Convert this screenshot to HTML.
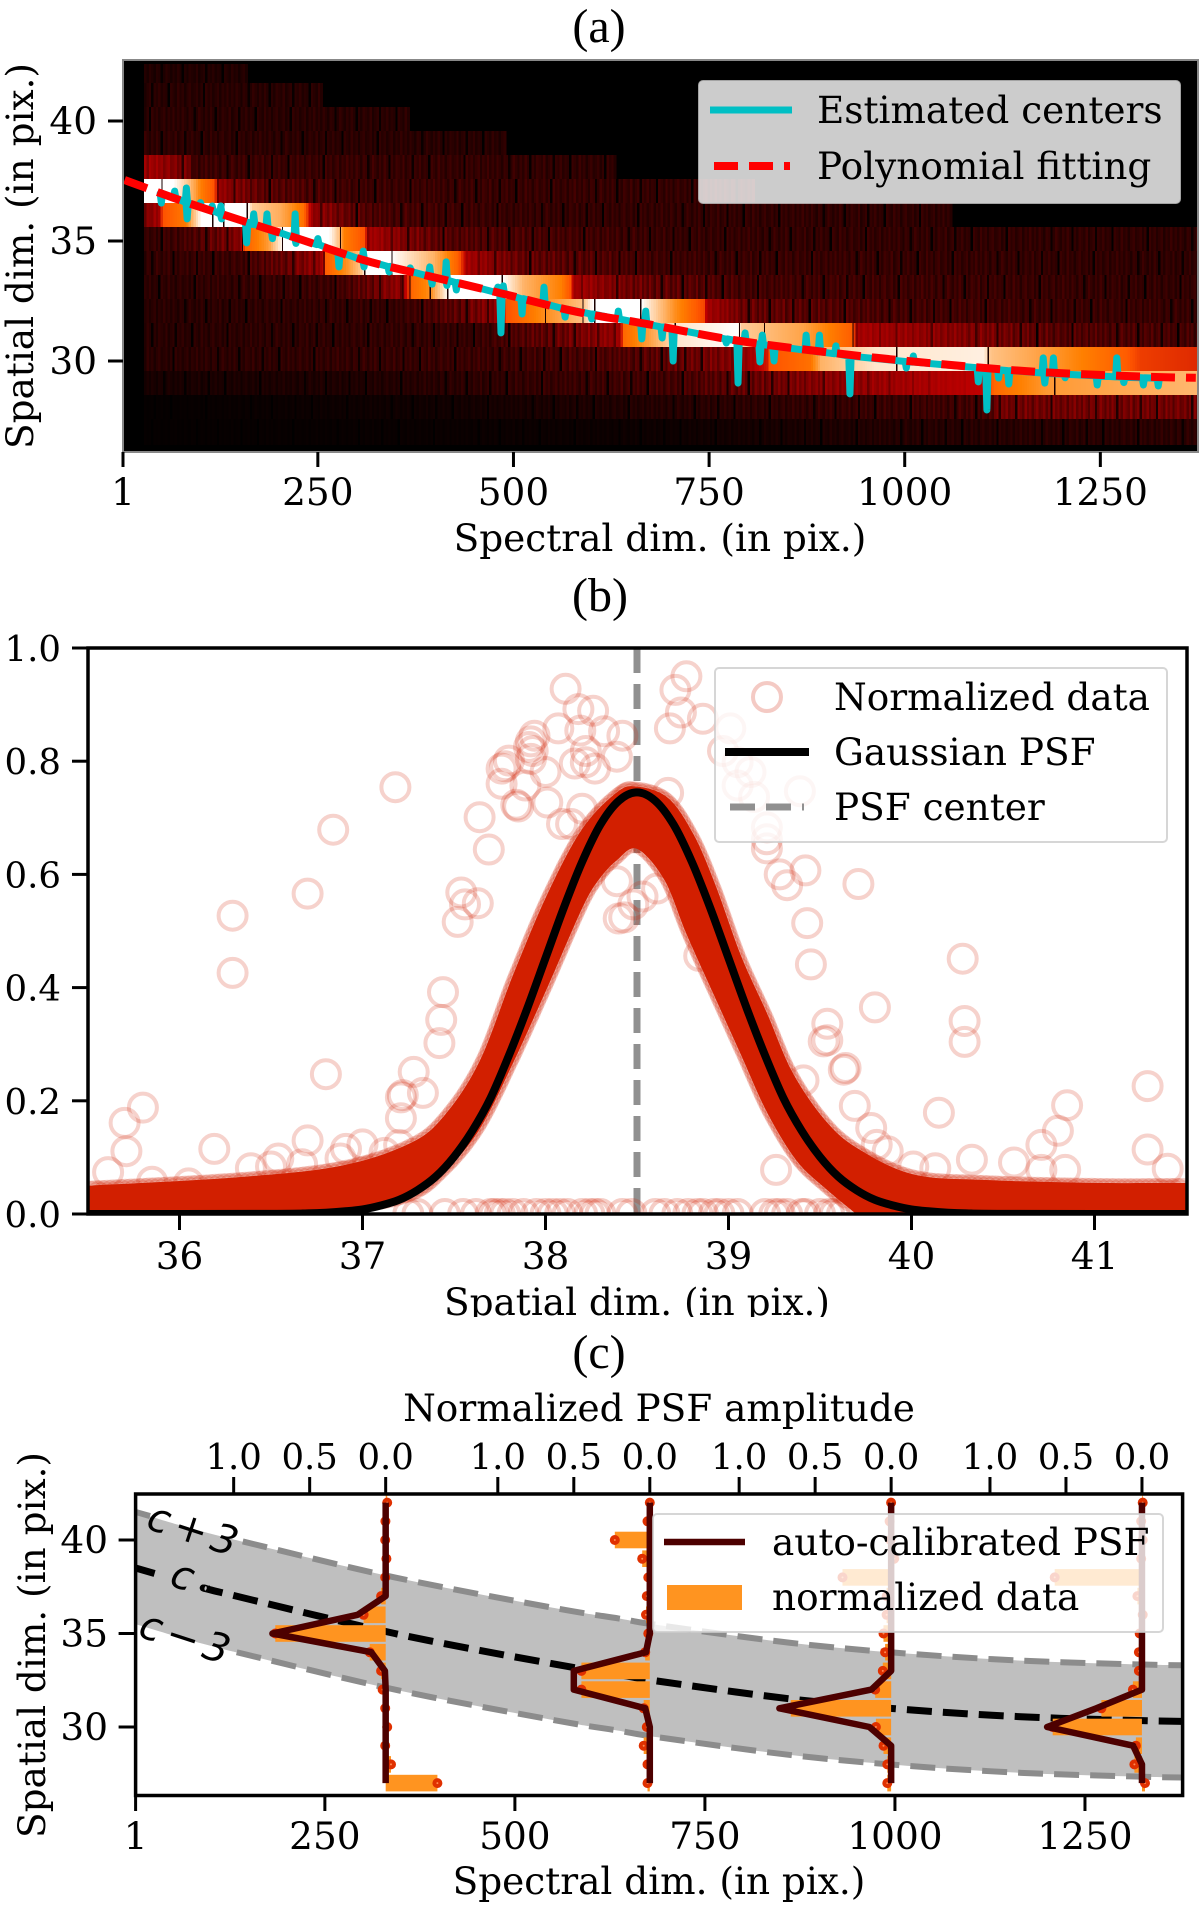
<!DOCTYPE html>
<html>
<head>
<meta charset="utf-8">
<title>PSF calibration figure</title>
<style>
html,body{margin:0;padding:0;background:#fff;}
svg{display:block;}
text{font-family:"DejaVu Serif","Liberation Serif",serif;font-size:37.4px;fill:#000;}
text.ptitle{font-family:"Liberation Serif","DejaVu Serif",serif;font-size:48px;}
text.ann{font-family:"DejaVu Sans","Liberation Sans",sans-serif;font-style:italic;font-size:40px;word-spacing:-7px;}
</style>
</head>
<body>
<svg id="fig" xmlns="http://www.w3.org/2000/svg" width="1200" height="1908" viewBox="0 0 1200 1908">
<defs>
<clipPath id="clipA"><rect x="123" y="60" width="1075" height="392"/></clipPath>
<clipPath id="clipHeat"><rect x="123" y="64" width="1075" height="381"/></clipPath>
<clipPath id="clipB"><rect x="88" y="648" width="1099" height="566"/></clipPath>
<clipPath id="clipC"><rect x="135.6" y="1494" width="1047" height="301.5"/></clipPath>
</defs>
<rect x="0" y="0" width="1200" height="1908" fill="#fff"/>

<!-- PANEL A -->
<text class="ptitle" x="599" y="42" text-anchor="middle">(a)</text>
<rect x="123" y="60" width="1075" height="392" fill="#000"/>
<g id="heat" clip-path="url(#clipHeat)" shape-rendering="crispEdges"></g>
<g id="aMarks" clip-path="url(#clipA)"></g>
<rect x="123" y="60" width="1075" height="392" fill="none" stroke="#888" stroke-width="2"/>
<g id="aAxes"></g>
<text x="660" y="551" text-anchor="middle">Spectral dim. (in pix.)</text>
<text transform="translate(33,256) rotate(-90)" text-anchor="middle">Spatial dim. (in pix.)</text>
<g>
<rect x="699" y="81" width="481" height="122" rx="4" fill="#fff" fill-opacity="0.8" stroke="#ccc" stroke-opacity="0.8" stroke-width="2"/>
<line x1="710" y1="110" x2="792" y2="110" stroke="#00bfc4" stroke-width="7"/>
<line x1="714" y1="166" x2="790" y2="166" stroke="#f00" stroke-width="8" stroke-dasharray="24 11"/>
<text x="817" y="123">Estimated centers</text>
<text x="817" y="179">Polynomial fitting</text>
</g>

<!-- PANEL B -->
<text class="ptitle" x="600" y="611" text-anchor="middle">(b)</text>
<g id="bMarks" clip-path="url(#clipB)"></g>
<g>
<rect x="715" y="668" width="452" height="174" rx="4" fill="#fff" fill-opacity="0.8" stroke="#ccc" stroke-opacity="0.8" stroke-width="2"/>
<circle cx="767" cy="697" r="14" fill="none" stroke="#d21f00" stroke-opacity="0.2" stroke-width="4"/>
<line x1="725" y1="752" x2="809" y2="752" stroke="#000" stroke-width="8"/>
<line x1="730" y1="807" x2="804" y2="807" stroke="#909090" stroke-width="7" stroke-dasharray="25 11"/>
<text x="834" y="710">Normalized data</text>
<text x="834" y="765">Gaussian PSF</text>
<text x="834" y="820">PSF center</text>
</g>
<rect x="88" y="648" width="1099" height="566" fill="none" stroke="#000" stroke-width="3.5"/>
<g id="bAxes"></g>
<text x="637" y="1315" text-anchor="middle">Spatial dim. (in pix.)</text>
<rect x="0" y="1317" width="1200" height="8" fill="#fff"/>

<!-- PANEL C -->
<text class="ptitle" x="599" y="1368" text-anchor="middle">(c)</text>
<text x="659" y="1421" text-anchor="middle">Normalized PSF amplitude</text>
<g id="cMarks" clip-path="url(#clipC)"></g>
<text class="ann" transform="translate(193,1529) rotate(18)" y="14" text-anchor="middle">c + 3</text>
<text class="ann" transform="translate(182,1578) rotate(18)" y="11" text-anchor="middle">c</text>
<text class="ann" transform="translate(185,1637) rotate(18)" y="14" text-anchor="middle">c − 3</text>
<g>
<rect x="653" y="1514" width="510" height="118" rx="4" fill="#fff" fill-opacity="0.8" stroke="#ccc" stroke-opacity="0.8" stroke-width="2"/>
<line x1="664" y1="1542" x2="745" y2="1542" stroke="#4d0000" stroke-width="6.5"/>
<rect x="667" y="1585" width="75" height="25" fill="#ff9420"/>
<text x="772" y="1555">auto-calibrated PSF</text>
<text x="772" y="1610">normalized data</text>
</g>
<rect x="135.6" y="1494" width="1047" height="301.5" fill="none" stroke="#000" stroke-width="3.5"/>
<g id="cAxes"></g>
<text x="659" y="1894" text-anchor="middle">Spectral dim. (in pix.)</text>
<text transform="translate(45,1645) rotate(-90)" text-anchor="middle">Spatial dim. (in pix.)</text>
</svg>

<script>
/* ---------- PANEL A DATA ---------- */
const aXTicks = [1, 250, 500, 750, 1000, 1250];
const aYTicks = [30, 35, 40];
const heatRows = [42, 41, 40, 39, 38, 37, 36, 35, 34, 33, 32, 31, 30, 29, 28, 27];
const heatProfiles = [
  [[28,.1],[157,.1]],
  [[28,.12],[255,.12]],
  [[28,.13],[365,.12]],
  [[28,.14],[489,.12]],
  [[28,.45],[45,.42],[84,.33],[90,.18],[400,.16],[628,.14]],
  [[28,1],[64,1],[84,.88],[100,.74],[117,.66],[120,.42],[180,.27],[300,.18],[805,.15]],
  [[28,.35],[47,.45],[50,.66],[80,.74],[88,.85],[100,1],[159,1],[165,.9],[200,.84],[230,.72],[236,.6],[240,.42],[320,.22],[500,.16],[1058,.14]],
  [[28,.15],[79,.2],[150,.38],[155,.68],[185,.8],[204,1],[263,1],[278,.85],[281,.75],[308,.66],[312,.45],[419,.25],[700,.16],[1375,.14]],
  [[28,.15],[150,.18],[182,.25],[255,.42],[258,.68],[285,.78],[305,.9],[309,1],[343,1],[397,.85],[429,.68],[439,.45],[508,.3],[700,.18],[1375,.14]],
  [[28,.13],[270,.18],[358,.42],[368,.7],[393,.78],[415,1],[485,1],[512,.85],[559,.75],[572,.66],[575,.45],[650,.32],[800,.2],[1375,.15]],
  [[28,.12],[350,.16],[429,.28],[486,.42],[489,.66],[540,.78],[588,.88],[600,1],[662,1],[705,.78],[742,.64],[746,.45],[800,.3],[1000,.2],[1375,.16]],
  [[28,.12],[450,.16],[549,.3],[635,.42],[639,.7],[674,.82],[708,.95],[786,1],[790,.9],[869,.82],[933,.68],[936,.45],[1110,.35],[1200,.25],[1375,.2]],
  [[28,.12],[500,.18],[662,.25],[789,.38],[823,.55],[825,.66],[878,.72],[892,.85],[961,.95],[1099,.97],[1109,.88],[1168,.82],[1282,.68],[1300,.62],[1375,.58]],
  [[28,.07],[300,.09],[500,.15],[700,.2],[892,.38],[1099,.5],[1112,.7],[1181,.8],[1375,.86]],
  [[28,.015],[400,.05],[800,.13],[1109,.2],[1112,.33],[1375,.33]],
  [[28,.015],[700,.04],[1000,.11],[1375,.13]]
];
const columnGain = [.9,.35,1.1,.6,.15,1,.8,.1,.5,1.2,.7,.25,.95,.4,1.15,.6,.05,.85,.3,1.05,.75,.45,1.2,.2,.65,1,.1,.9,.55,1.1,.35,.8,.6,.02,1.05,.7,.3,1.2,.5,.9,.15,.75,1.1,.4,.6,1,.25,.85,.05,1.15,.55,.95,.3,.7,1.05,.2,.9,.5,1.2,.4];
const darkLineRows = [37,36,36,36,35,35,35,34,34,34,33,33,33,33,33,32,32,32,32,31,31,31,31,30,30,29];
const darkLineCols = [50,115,129,159,153,204,278,257,309,344,358,367,393,415,485,540,588,603,662,706,788,820,933,989,1106,1191];
const fitCols = [3,79,150,222,308,375,483,581,671,781,910,1030,1168,1305,1372];
const fitVals = [37.54,36.64,35.88,35.13,34.21,33.67,32.83,32.05,31.54,30.875,30.33,29.92,29.55,29.35,29.30];
const spikeCols = [50,67,82,83,100,115,126,127,159,168,185,192,221,222,250,277,308,309,341,368,393,396,414,415,427,480,484,487,511,539,566,600,634,664,669,690,704,772,787,796,815,818,833,874,891,912,930,1002,1011,1094,1105,1120,1133,1177,1179,1190,1205,1246,1271,1280,1305,1324];
const spikeTips = [36.58,37.08,37.21,35.92,36.6,36.46,36.46,35.92,34.92,36.13,36.13,35.1,36.13,34.9,35.1,33.92,34.58,33.92,33.71,33.88,33.92,33.2,34.13,33.15,32.96,33.08,31.17,33.13,31.96,33.08,31.83,31.75,32.08,30.92,32.08,30.96,30,30.75,29.08,31.17,29.96,31.08,30,31.08,31.08,30.63,28.63,29.71,30.21,29.13,27.96,29.29,29.04,30.13,29.08,30.13,29.3,29,30.13,29.1,29,28.96];
const spikeBases = [36.98,36.8,36.61,36.6,36.42,36.26,36.13,36.12,35.78,35.69,35.51,35.44,35.14,35.13,34.85,34.54,34.21,34.2,33.94,33.73,33.53,33.5,33.37,33.36,33.27,32.85,32.82,32.8,32.6,32.38,32.17,31.96,31.75,31.57,31.54,31.42,31.33,30.92,30.84,30.79,30.7,30.68,30.62,30.45,30.38,30.3,30.2,29.98,29.95,29.72,29.7,29.63,29.6,29.5,29.5,29.47,29.45,29.38,29.34,29.32,29.3,29.28];

/* ---------- PANEL B DATA ---------- */
const bXTicks = [36, 37, 38, 39, 40, 41];
const bYTicks = [0, 0.2, 0.4, 0.6, 0.8, 1.0];
const outlierX = [38.11,38.18,38.26,38.07,38.19,38.32,38.42,37.94,37.92,37.91,37.93,37.92,37.80,37.78,37.76,38.0,38.22,38.22,38.16,38.27,38.39,37.89,37.76,37.85,37.84,38.01,37.64,37.69,37.18,36.84,36.70,36.29,36.29,37.54,37.56,37.63,37.52,37.44,37.43,37.42,36.80,37.28,37.33,37.21,37.22,37.21,35.80,35.70,35.71,36.19,36.70,36.91,37.0,36.88,37.12,37.20,36.54,36.39,36.67,36.50,35.61,35.85,36.05,38.14,38.09,38.2,38.39,38.40,38.48,
38.77,38.71,38.74,38.68,38.86,39.01,39.21,38.97,39.05,39.12,39.39,39.05,39.14,39.21,39.21,39.21,39.28,39.42,39.32,39.71,39.43,39.45,40.28,39.80,40.29,40.29,39.54,39.54,39.52,39.64,39.63,39.41,39.69,40.15,39.78,41.29,40.85,40.80,40.71,41.29,41.40,39.26,40.33,40.56,39.87,38.84,38.61,38.53,38.43,38.67,39.81,40.84,40.71,40.01,40.13];
const outlierY = [.928,.892,.889,.858,.854,.853,.845,.845,.835,.825,.818,.804,.801,.791,.787,.781,.818,.798,.796,.787,.808,.757,.760,.720,.723,.727,.701,.644,.754,.679,.566,.527,.426,.568,.547,.549,.516,.392,.343,.302,.247,.251,.214,.206,.210,.169,.188,.161,.111,.115,.130,.115,.123,.098,.108,.122,.098,.081,.088,.084,.074,.057,.054,.689,.689,.716,.588,.522,.547,
.950,.926,.886,.858,.875,.858,.913,.818,.798,.781,.747,.757,.737,.683,.662,.646,.600,.607,.581,.583,.514,.441,.451,.365,.341,.304,.336,.307,.305,.258,.255,.236,.191,.179,.152,.226,.192,.147,.122,.114,.080,.078,.096,.091,.111,.456,.575,.561,.524,.744,.122,.078,.078,.084,.081];
const zeroRingX = [37.25,37.3,37.45,37.55,37.62,37.7,37.72,37.75,37.78,37.82,37.88,37.95,38.0,38.04,38.08,38.12,38.2,38.24,38.27,38.3,38.42,38.47,38.6,38.65,38.72,38.78,38.83,38.86,38.92,38.95,39.0,39.05,39.2,39.25,39.28,39.32,39.4,39.42,39.5,39.55,39.58,39.62];
const bandUpperX = [35.5,36.32,36.88,37.26,37.45,37.64,37.82,38.01,38.2,38.39,38.5,38.67,38.81,38.93,39.07,39.21,39.35,39.53,39.71,40.01,40.41,41.0,41.5];
const bandUpperY = [.05,.065,.085,.125,.175,.27,.42,.565,.68,.745,.755,.735,.67,.58,.455,.355,.25,.165,.115,.07,.06,.055,.055];
const bandLowerX = [39.69,39.53,39.37,39.21,39.07,38.93,38.77,38.65,38.5,38.39,38.29,38.2,38.01,37.82,37.64,37.45,37.26,36.88];
const bandLowerY = [.002,.045,.095,.18,.28,.38,.495,.59,.645,.625,.59,.54,.4,.265,.15,.075,.03,.002];
const bandXLimits = [35.5, 41.5];
const gaussX = [35.5,36.5,36.7,36.8,36.9,37,37.1,37.2,37.3,37.4,37.5,37.6,37.7,37.8,37.9,38,38.1,38.2,38.3,38.4,38.5,38.6,38.7,38.8,38.9,39,39.1,39.2,39.3,39.4,39.5,39.6,39.7,39.8,39.9,40,40.1,40.2,40.3,40.5,41.5];
const gaussY = [0,.0002,.0011,.0023,.0046,.008,.015,.025,.042,.066,.101,.147,.205,.28,.363,.452,.541,.622,.688,.73,.745,.73,.688,.622,.541,.452,.363,.28,.205,.147,.101,.066,.042,.025,.015,.008,.0046,.0023,.0011,.0002,0];
const psfCenterValue = 38.5;

/* ---------- PANEL C DATA ---------- */
const cXTicks = [1, 250, 500, 750, 1000, 1250];
const cYTicks = [30, 35, 40];
const ampTicks = [0, 0.5, 1.0];
const curveCols = [1,113,342,551,637,687,863,1015,1166,1317,1377];
const curveVals = [38.5,37.2,35.0,33.37,32.8,32.46,31.5,30.93,30.55,30.35,30.3];
const curveHalfWidth = 3;
const upperGapCols = [20, 142];
const centerGapCols = [26, 96];
const lowerGapCols = [1, 134];
const profileRows = [42,41,40,39,38,37,36,35,34,33,32,31,30,29,28,27];
const profileBaselines = [330, 677.5, 995, 1325];
const psfA = [0,0,0,0,0,0,.185,.745,.095,.005,0,0,0,0,0,0];
const psfB = [0,0,0,0,0,0,0,0,.025,.5,.5,.03,0,0,0,0];
const psfC = [0,0,0,0,0,0,0,0,0,0,.13,.735,.143,0,0,0];
const psfD = [0,0,0,0,0,0,0,0,0,0,0,.3,.624,.058,0,0];
const dataA = [-.01,.002,.003,-.005,.003,.03,.145,.726,.105,.03,.02,.003,-.01,.003,-.035,-.34];
const dataB = [0,.015,.23,.05,.01,.02,.025,.01,.03,.45,.45,.04,.02,.04,.015,.015];
const dataC = [0,.01,.005,-.02,.32,.03,.03,.05,.04,.055,.105,.66,.1,.05,.025,.025];
const dataD = [-.005,.005,-.005,.005,.574,.03,-.005,.015,.02,.02,.06,.267,.587,.04,.05,-.02];
const psfSeries = [psfA, psfB, psfC, psfD];
const dataSeries = [dataA, dataB, dataC, dataD];

/* ---------- HELPERS ---------- */
const NS = 'http://www.w3.org/2000/svg';
function el(tag, attrs, parent) {
  const node = document.createElementNS(NS, tag);
  for (const k in attrs) node.setAttribute(k, attrs[k]);
  parent.appendChild(node);
  return node;
}
function pathFrom(xs, ys, fx, fy) {
  return xs.map((x, i) => (i ? 'L' : 'M') + fx(x).toFixed(2) + ' ' + fy(ys[i]).toFixed(2)).join(' ');
}
function smoothFrom(xs, ys, fx, fy) {
  const p = xs.map((x, i) => [fx(x), fy(ys[i])]);
  let d = 'M' + p[0][0].toFixed(2) + ' ' + p[0][1].toFixed(2);
  for (let i = 0; i < p.length - 1; i++) {
    const a = p[Math.max(0, i - 1)], b = p[i], c = p[i + 1], e = p[Math.min(p.length - 1, i + 2)];
    const c1x = b[0] + (c[0] - a[0]) / 6, c1y = b[1] + (c[1] - a[1]) / 6;
    const c2x = c[0] - (e[0] - b[0]) / 6, c2y = c[1] - (e[1] - b[1]) / 6;
    d += ' C' + c1x.toFixed(2) + ' ' + c1y.toFixed(2) + ' ' + c2x.toFixed(2) + ' ' + c2y.toFixed(2) + ' ' + c[0].toFixed(2) + ' ' + c[1].toFixed(2);
  }
  return d;
}
function sliceCurve(cols, vals, from, to) {
  const at = c => {
    for (let i = 1; i < cols.length; i++) {
      if (c <= cols[i]) return vals[i - 1] + (c - cols[i - 1]) / (cols[i] - cols[i - 1]) * (vals[i] - vals[i - 1]);
    }
    return vals[vals.length - 1];
  };
  const xs = [from], ys = [at(from)];
  cols.forEach((c, i) => { if (c > from && c < to) { xs.push(c); ys.push(vals[i]); } });
  xs.push(to); ys.push(at(to));
  return [xs, ys];
}
function lerpProfile(knots, col) {
  if (col < knots[0][0] || col > knots[knots.length - 1][0]) return 0;
  for (let i = 1; i < knots.length; i++) {
    if (col <= knots[i][0]) {
      const t = (col - knots[i - 1][0]) / (knots[i][0] - knots[i - 1][0]);
      return knots[i - 1][1] + t * (knots[i][1] - knots[i - 1][1]);
    }
  }
  return 0;
}
function gistHeat(v) {
  const r = Math.min(1, 1.5 * v), g = Math.max(0, 2 * v - 1), b = Math.max(0, 4 * v - 3);
  return 'rgb(' + Math.round(r * 255) + ',' + Math.round(g * 255) + ',' + Math.round(b * 255) + ')';
}
function axisLabel(parent, x, y, txt, anchor, name) {
  const t = el('text', {x: x, y: y, 'text-anchor': anchor}, parent);
  t.textContent = txt;
  
  
  return t;
}
function tickLine(parent, x1, y1, x2, y2, name) {
  const l = el('line', {x1: x1, y1: y1, x2: x2, y2: y2, stroke: '#000', 'stroke-width': 3}, parent);
  
  
  return l;
}

/* ---------- PANEL A ---------- */
const ax = c => 123 + (c - 1) * 0.7825;
const ay = v => 361 - (v - 30) * 24;
const heatG = document.getElementById('heat');
const heatStep = 3;
heatRows.forEach((row, ri) => {
  const knots = heatProfiles[ri];
  const top = ay(row + 0.58);
  const height = row === 27 ? 27 : 24;
  let idx = 0;
  for (let col = knots[0][0]; col <= knots[knots.length - 1][0]; col += heatStep, idx++) {
    let v = lerpProfile(knots, col);
    const gain = columnGain[(idx + ri * 23) % columnGain.length];
    const soft = gain < 0.12 ? gain * 2 : 0.5 + 0.5 * gain;
    const weight = Math.max(0, Math.min(1, (0.5 - v) / 0.2));
    v *= 1 - weight * (1 - soft);
    const cell = el('rect', {x: ax(col).toFixed(1), y: top.toFixed(1), width: (heatStep * 0.7825 + 0.6).toFixed(2), height: height, fill: gistHeat(v)}, heatG);
    
    
  }
});
darkLineRows.forEach((row, i) => {
  const dark = el('rect', {x: ax(darkLineCols[i]).toFixed(1), y: ay(row + 0.58).toFixed(1), width: 1.3, height: 24, fill: '#1a0000'}, heatG);
  
  
});
const aMarks = document.getElementById('aMarks');
const centerXs = [], centerYs = [];
spikeCols.forEach((c, i) => {
  centerXs.push(c - 1.5, c, c + 1.5);
  centerYs.push(spikeBases[i], spikeTips[i], spikeBases[i]);
});
const centerPath = el('path', {d: pathFrom(centerXs, centerYs, ax, ay), fill: 'none', stroke: '#00bfc4', 'stroke-width': 7, 'stroke-linecap': 'round', 'stroke-linejoin': 'round'}, aMarks);


const fitPath = el('path', {d: smoothFrom(fitCols, fitVals, ax, ay), fill: 'none', stroke: '#f00', 'stroke-width': 8, 'stroke-dasharray': '24 11'}, aMarks);


const aAxes = document.getElementById('aAxes');
aXTicks.forEach(t => {
  tickLine(aAxes, ax(t), 452, ax(t), 467, 'panel-a-x-tick');
  axisLabel(aAxes, ax(t), 505, String(t), 'middle', 'panel-a-x-tick-label');
});
aYTicks.forEach(t => {
  tickLine(aAxes, 123, ay(t), 108, ay(t), 'panel-a-y-tick');
  axisLabel(aAxes, 97, ay(t) + 13, String(t), 'end', 'panel-a-y-tick-label');
});

/* ---------- PANEL B ---------- */
const bx = v => 88 + (v - 35.5) * 183;
const by = v => 1214 - v * 566;
const bMarks = document.getElementById('bMarks');
const centerLine = el('line', {x1: bx(psfCenterValue), y1: by(1), x2: bx(psfCenterValue), y2: by(0), stroke: '#909090', 'stroke-width': 7, 'stroke-dasharray': '25 11'}, bMarks);


outlierX.forEach((x, i) => {
  const ring = el('circle', {cx: bx(x).toFixed(1), cy: by(outlierY[i]).toFixed(1), r: 14, fill: 'none', stroke: '#d21f00', 'stroke-opacity': 0.2, 'stroke-width': 4}, bMarks);
  
  
});
zeroRingX.forEach(x => {
  const ring = el('circle', {cx: bx(x).toFixed(1), cy: by(0).toFixed(1), r: 14, fill: 'none', stroke: '#d21f00', 'stroke-opacity': 0.22, 'stroke-width': 4}, bMarks);
  
  
});
const upperD = smoothFrom(bandUpperX, bandUpperY, bx, by);
const lowerD = smoothFrom(bandLowerX, bandLowerY, bx, by);
[upperD, lowerD].forEach(d => {
  const guide = el('path', {d: d, fill: 'none', stroke: 'none'}, bMarks);
  
  
  const len = guide.getTotalLength();
  for (let s = 1; s < len - 1; s += 6) {
    const p = guide.getPointAtLength(s), q = guide.getPointAtLength(s + 1);
    if (p.y > 1205) continue;
    const tx = q.x - p.x, ty = q.y - p.y, n = Math.hypot(tx, ty) || 1;
    const edgeRing = el('circle', {cx: (p.x - ty / n * 11).toFixed(1), cy: (p.y + tx / n * 11).toFixed(1), r: 14, fill: 'none', stroke: '#d21f00', 'stroke-opacity': 0.22, 'stroke-width': 4}, bMarks);
    
    
  }
});
const bandD = upperD + ' L' + bx(bandXLimits[1]) + ' ' + by(0) + ' ' + lowerD.replace(/^M/, 'L') + ' L' + bx(bandXLimits[0]) + ' ' + by(0) + ' Z';
const band = el('path', {d: bandD, fill: '#d21f00'}, bMarks);


const gaussPath = el('path', {d: smoothFrom(gaussX, gaussY, bx, by), fill: 'none', stroke: '#000', 'stroke-width': 8, 'stroke-linejoin': 'round'}, bMarks);


const bAxes = document.getElementById('bAxes');
bXTicks.forEach(t => {
  tickLine(bAxes, bx(t), 1214, bx(t), 1230, 'panel-b-x-tick');
  axisLabel(bAxes, bx(t), 1269, String(t), 'middle', 'panel-b-x-tick-label');
});
bYTicks.forEach(t => {
  tickLine(bAxes, 88, by(t), 72, by(t), 'panel-b-y-tick');
  const lab = axisLabel(bAxes, 61, by(t) + 13, t.toFixed(1), 'end', 'panel-b-y-tick-label');
  lab.style.fontSize = '35.5px';
});

/* ---------- PANEL C ---------- */
const cx = c => 135.6 + (c - 1) * 0.7601;
const cy = v => 1727 - (v - 30) * 18.7;
const ampPx = 152;
const cMarks = document.getElementById('cMarks');
const upperVals = curveVals.map(v => v + curveHalfWidth);
const lowerVals = curveVals.map(v => v - curveHalfWidth);
const bandFillD = smoothFrom(curveCols, upperVals, cx, cy) + ' ' +
  smoothFrom(curveCols.slice().reverse(), lowerVals.slice().reverse(), cx, cy).replace(/^M/, 'L') + ' Z';
const grayBand = el('path', {d: bandFillD, fill: '#bfbfbf'}, cMarks);


function dashedPieces(vals, gap, stroke, width, name) {
  [[curveCols[0], gap[0]], [gap[1], curveCols[curveCols.length - 1]]].forEach(range => {
    if (range[1] <= range[0]) return;
    const piece = sliceCurve(curveCols, vals, range[0], range[1]);
    const line = el('path', {d: smoothFrom(piece[0], piece[1], cx, cy), fill: 'none', stroke: stroke, 'stroke-width': width, 'stroke-dasharray': '25 11'}, cMarks);
    
    
  });
}
dashedPieces(upperVals, upperGapCols, '#8c8c8c', 6, 'c-plus-3-line');
dashedPieces(lowerVals, lowerGapCols, '#8c8c8c', 6, 'c-minus-3-line');
dashedPieces(curveVals, centerGapCols, '#000', 7, 'c-center-line');
profileBaselines.forEach((base, p) => {
  const x0 = cx(base);
  const amp = a => x0 - a * ampPx;
  dataSeries[p].forEach((a, i) => {
    const w = Math.abs(a) * ampPx;
    const bar = el('rect', {x: Math.min(x0, amp(a)).toFixed(1), y: (cy(profileRows[i]) - 8.3).toFixed(1), width: w.toFixed(1), height: 16.6, fill: '#ff9420'}, cMarks);
    
    
  });
  dataSeries[p].forEach((a, i) => {
    const dot = el('circle', {cx: amp(a).toFixed(1), cy: cy(profileRows[i]).toFixed(1), r: 3, fill: '#ff8a50', stroke: '#e03000', 'stroke-width': 4}, cMarks);
    
    
  });
  const line = el('path', {d: pathFrom(psfSeries[p], profileRows, amp, cy), fill: 'none', stroke: '#4d0000', 'stroke-width': 6.5, 'stroke-linejoin': 'round'}, cMarks);
  
  
});
const cAxes = document.getElementById('cAxes');
cXTicks.forEach(t => {
  tickLine(cAxes, cx(t), 1795, cx(t), 1811, 'panel-c-x-tick');
  axisLabel(cAxes, cx(t), 1849, String(t), 'middle', 'panel-c-x-tick-label');
});
cYTicks.forEach(t => {
  tickLine(cAxes, 135.6, cy(t), 118.6, cy(t), 'panel-c-y-tick');
  axisLabel(cAxes, 108, cy(t) + 13, String(t), 'end', 'panel-c-y-tick-label');
});
profileBaselines.forEach(base => {
  ampTicks.forEach(a => {
    const px = cx(base) - a * ampPx;
    tickLine(cAxes, px, 1494, px, 1477, 'panel-c-amplitude-tick');
    const lab = axisLabel(cAxes, px, 1469, a.toFixed(1), 'middle', 'panel-c-amplitude-tick-label');
    lab.style.fontSize = '35.5px';
  });
});
</script>
</body>
</html>
